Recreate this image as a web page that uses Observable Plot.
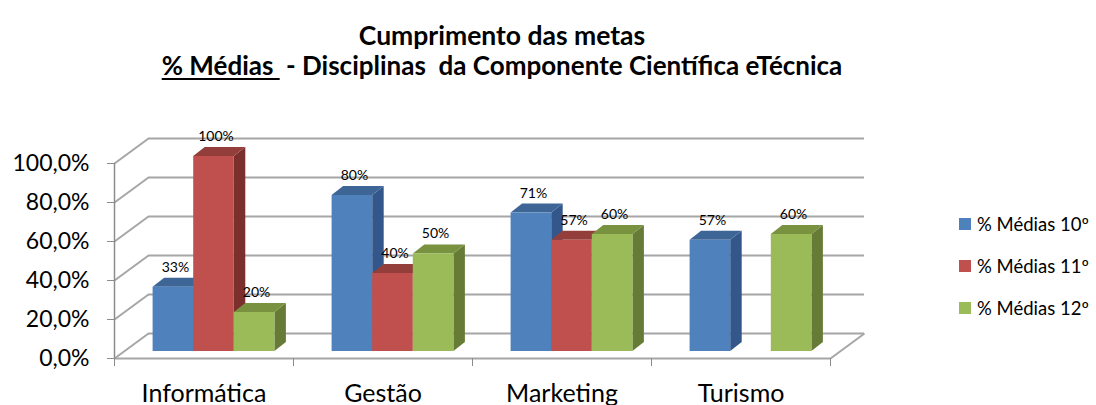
<!DOCTYPE html>
<html>
<head>
<meta charset="utf-8">
<script src="https://cdn.jsdelivr.net/npm/d3@7"></script>
<script src="https://cdn.jsdelivr.net/npm/@observablehq/plot@0.6"></script>
<style>
  body { margin: 0; background: #fff; font-family: Lato, sans-serif; color: #000; }
  #wrap { position: relative; width: 1096px; height: 405px; overflow: hidden; background: #fff; }
  #title { position: absolute; top: 22px; left: 0; width: 1004px; text-align: center; font-weight: bold; line-height: 27px; white-space: pre; }
  #title .l1 { font-size: 26.5px; }
  #title .l2 { font-size: 26px; }
  #title u { text-underline-offset: 3px; text-decoration-thickness: 2px; }
  #chart { position: absolute; top: 90px; left: 0; }
  #legend { position: absolute; left: 959px; top: 0; }
  .lg { position: absolute; left: 0; white-space: nowrap; font-size: 18.5px; line-height: 24px; }
  .lg span.sw { position: absolute; left: 0; top: 6px; width: 12px; height: 12px; }
  .lg span.tx { position: absolute; left: 18px; top: 0; }
</style>
</head>
<body>
<div id="wrap">
  <div id="title"><span class="l1">Cumprimento das metas</span><br><span class="l2"><u>% Médias </u> - Disciplinas  da Componente Científica eTécnica</span></div>
  <div id="chart"></div>
  <div id="legend"></div>
</div>
<script>
// ---- data ----
const categories = ["Informática", "Gestão", "Marketing", "Turismo"];
const series = ["% Médias 10º", "% Médias 11º", "% Médias 12º"];
const medias10 = [33, 80, 71, 57];
const medias11 = [100, 40, 57, null];
const medias12 = [20, 50, 60, 60];
const yTicks = [0, 20, 40, 60, 80, 100];

// ---- styles ----
const frontColors = ["#4f81bd", "#c0504d", "#9bbb59"];
const topColors = ["#3d6697", "#943e3c", "#79923f"];
const sideColors = ["#33578a", "#7c302e", "#667c36"];

// ---- layout ----
const W = 1096, H = 315;
const mL = 114, mR = 266, mT = 73, mB = 47;
const pxX = (W - mL - mR) / categories.length;   // px per category unit
const pxY = (H - mT - mB) / 100;                  // px per percent
const wallDx = 34, wallDy = 25;                   // depth of the floor (px)
const planeDx = 10, planeDy = -7;                 // plane where bars stand (px)
const barW = 40.6 / pxX;                          // bar width (x units)
const bdX = 11.5 / pxX, bdY = 9 / pxY;            // bar depth (data units)
const wX = wallDx / pxX, wY = wallDy / pxY;

const valueSets = [medias10, medias11, medias12];
const bars = [];
categories.forEach((c, i) => {
  valueSets.forEach((arr, j) => {
    const v = arr[i];
    if (v == null) return;
    const x1 = i + 0.5 + (j - 1.5) * barW;
    bars.push({ id: i + "-" + j, cat: c, j, v, x1, x2: x1 + barW });
  });
});
const tops = bars.flatMap(b => [
  { id: b.id, j: b.j, y: b.v, x1: b.x1, x2: b.x2 },
  { id: b.id, j: b.j, y: b.v + bdY, x1: b.x1 + bdX, x2: b.x2 + bdX }
]);
const sides = bars.flatMap(b => [
  { id: b.id, j: b.j, x: b.x2, y1: 0, y2: b.v },
  { id: b.id, j: b.j, x: b.x2 + bdX, y1: bdY, y2: b.v + bdY }
]);

const gridColor = "#a6a6a6";
const axisColor = "#8c8c8c";

const chart = Plot.plot({
  width: W,
  height: H,
  marginLeft: mL,
  marginRight: mR,
  marginTop: mT,
  marginBottom: mB,
  style: { fontFamily: "Lato, sans-serif", background: "transparent", overflow: "visible" },
  x: { domain: [0, categories.length] },
  y: { domain: [0, 100] },
  color: { type: "identity" },
  marks: [
    // back wall gridlines
    Plot.ruleY(yTicks, { x1: 0, x2: categories.length, dx: wallDx, dy: -wallDy, stroke: gridColor, strokeWidth: 2 }),
    // side wall diagonals
    Plot.link(yTicks, { x1: 0, y1: d => d, x2: wX, y2: d => d + wY, stroke: gridColor, strokeWidth: 2 }),
    // floor right diagonal
    Plot.link([0], { x1: categories.length, y1: 0, x2: categories.length + wX, y2: wY, stroke: gridColor, strokeWidth: 2 }),
    // floor front edge and front vertical axis
    Plot.ruleY([0], { x1: 0, x2: categories.length, stroke: gridColor, strokeWidth: 2 }),
    Plot.ruleX([0], { y1: 0, y2: 100, stroke: axisColor, strokeWidth: 1.5 }),
    // bars: side faces, top faces, front faces
    Plot.areaY(sides, { x: "x", y1: "y1", y2: "y2", z: "id", fill: d => sideColors[d.j], dx: planeDx, dy: planeDy }),
    Plot.areaX(tops, { y: "y", x1: "x1", x2: "x2", z: "id", fill: d => topColors[d.j], dx: planeDx, dy: planeDy }),
    Plot.rectY(bars, { x1: "x1", x2: "x2", y1: 0, y2: "v", fill: d => frontColors[d.j], dx: planeDx, dy: planeDy }),
    // value labels
    Plot.text(bars, { x: d => (d.x1 + d.x2) / 2, y: "v", text: d => d.v + "%", dx: planeDx + 2, dy: planeDy - 20, fontSize: 14, fill: "#000" }),
    // axes
    Plot.axisY({ ticks: yTicks, tickFormat: d => d.toFixed(1).replace(".", ",") + "%", tickSize: 7, tickPadding: 18, fontSize: 23, stroke: axisColor, fill: "#000" }),
    Plot.axisX({ ticks: d3.range(categories.length + 1), tickSize: 8, tickFormat: () => "", stroke: axisColor }),
    Plot.text(categories, { x: (d, i) => i + 0.5, y: 0, dy: 35, text: d => d, fontSize: 25, fill: "#000" })
  ]
});
document.getElementById("chart").appendChild(chart);

// ---- legend ----
const legendRows = [224, 266, 308];
const lg = d3.select("#legend");
series.forEach((s, j) => {
  const row = lg.append("div").attr("class", "lg").style("top", (legendRows[j] - 12) + "px");
  row.append("span").attr("class", "sw").style("background", frontColors[j]);
  row.append("span").attr("class", "tx").text(s);
});
</script>
</body>
</html>
